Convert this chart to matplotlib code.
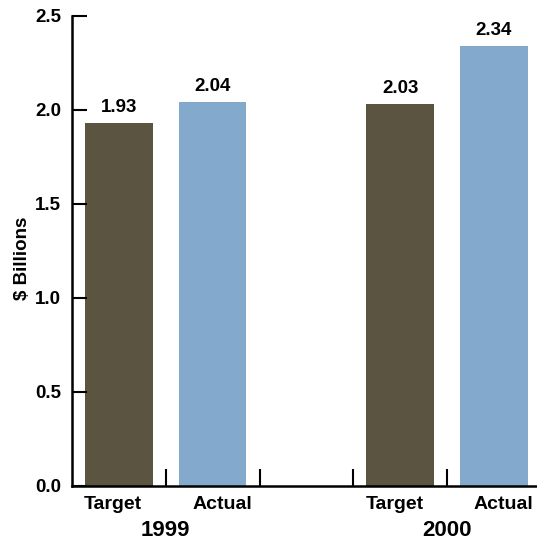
import matplotlib.pyplot as plt

# data
years = ['1999', '2000']
labels = ['Target', 'Actual']
target = [1.93, 2.03]
actual = [2.04, 2.34]
yticks = [0.0, 0.5, 1.0, 1.5, 2.0, 2.5]

c_target = '#5b5441'
c_actual = '#83aacc'

plt.rcParams['font.family'] = ['Liberation Sans', 'DejaVu Sans']
plt.rcParams['font.weight'] = 'bold'

fig = plt.figure(figsize=(5.37, 5.42), dpi=100)
ax = fig.add_axes([72 / 537, 56 / 542, 1 - 72 / 537, 470 / 542])

# slots: 0,1 for 1999, 3,4 for 2000 (slot 2 left empty)
pos_t = [0, 3]
pos_a = [1, 4]
w = 0.72
ax.bar(pos_t, target, width=w, color=c_target)
ax.bar(pos_a, actual, width=w, color=c_actual)

for x, v in zip(pos_t + pos_a, target + actual):
    ax.text(x, v + 0.04, '%.2f' % v, ha='center', va='bottom',
            fontsize=13.5, fontweight='bold')

ax.set_xlim(-0.5, 4.46)
ax.set_ylim(0, 2.5)
ax.set_yticks(yticks)
ax.set_yticklabels(['%.1f' % t for t in yticks])
ax.set_xticks([0.5, 1.5, 2.5, 3.5])
ax.set_xticklabels([])
ax.tick_params(axis='y', direction='in', length=11, width=1.5, pad=8,
               labelsize=13.5)
ax.tick_params(axis='x', direction='in', length=12, width=1.5)
for s in ['top', 'right']:
    ax.spines[s].set_visible(False)
for s in ['left', 'bottom']:
    ax.spines[s].set_linewidth(1.8)

ax.set_ylabel('$ Billions', fontsize=13.5, fontweight='bold')
ax.yaxis.set_label_coords(-41 / 465, 0.485)

# category labels under bars
for pt, pa in zip(pos_t, pos_a):
    ax.text(pt - 0.06, -0.055, labels[0], ha='center', va='top',
            fontsize=14, fontweight='bold')
    ax.text(pa + 0.1, -0.055, labels[1], ha='center', va='top',
            fontsize=14, fontweight='bold')

# year labels
ax.text(0.5, -0.182, years[0], ha='center', va='top', fontsize=16,
        fontweight='bold')
ax.text(3.5, -0.182, years[1], ha='center', va='top', fontsize=16,
        fontweight='bold')

fig.savefig('out.png', dpi=100)
